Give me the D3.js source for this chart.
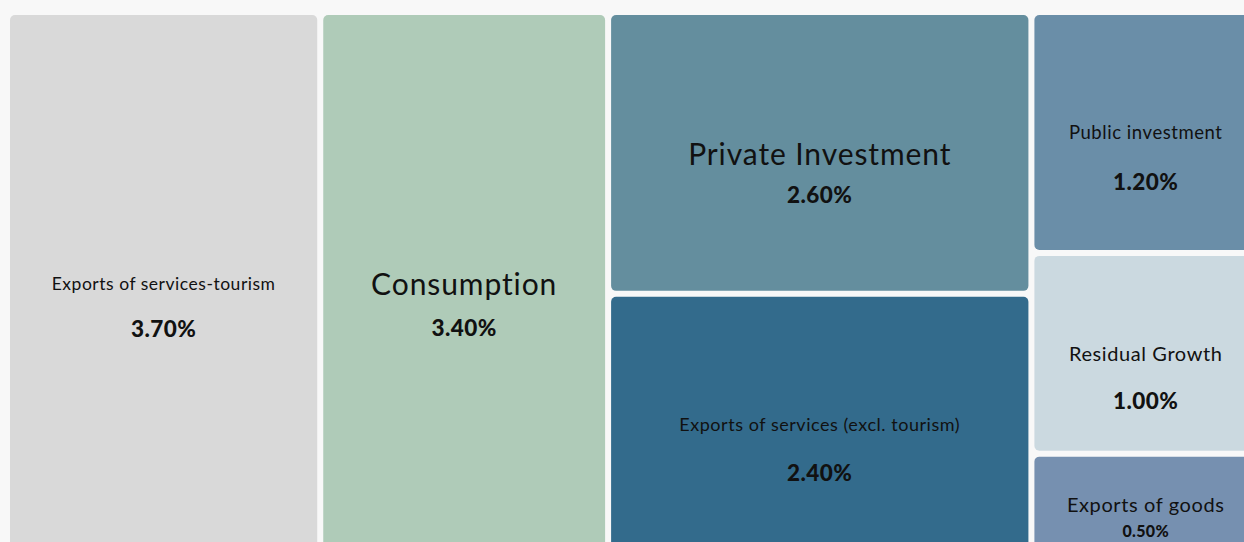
<!DOCTYPE html>
<html>
<head>
<meta charset="utf-8">
<script src="https://cdn.jsdelivr.net/npm/d3@7"></script>
<style>
  html, body { margin: 0; padding: 0; background: #f8f8f8; overflow: hidden; }
  svg { display: block; }
  text { font-family: Lato, "Open Sans", sans-serif; fill: #111; }
</style>
</head>
<body>
<div class="treemap"></div>
<script>
// growth contributions (percentage points)
const categories = [
    "Exports of services-tourism",
    "Consumption",
    "Private Investment",
    "Exports of services (excl. tourism)",
    "Public investment",
    "Residual Growth",
    "Exports of goods"
];
const values = [3.7, 3.4, 2.6, 2.4, 1.2, 1.0, 0.5];
const colors = ["#d9d9d9", "#afcbb8", "#648e9e", "#336b8c", "#6a8ea8", "#cbd9e0", "#7690b0"];

// label styles per tile
const labelSize = [17.5, 30, 30, 18, 18.5, 20, 20];
const valueSize = [22.5, 22.5, 22.5, 22.5, 22.5, 22.5, 16];
const valueGap = [45, 44, 42, 49, 49, 47, 27];

const width = 1244;
const height = 542;

const svg = d3.select('.treemap').append('svg')
    .attr('width', width)
    .attr('height', height);

const root = d3.hierarchy({
    children: categories.map((c, i) => ({ name: c, value: values[i], i: i }))
})
    .sum(d => d.value)
    .sort((a, b) => b.value - a.value);

d3.treemap()
    .tile(d3.treemapSquarify.ratio(1))
    .size([1247, 536])
    .paddingInner(6)(root);

const graph = svg.append('g')
    .attr('transform', 'translate(10,15)');

const cells = graph.selectAll('g')
    .data(root.leaves())
    .enter()
    .append('g')
    .attr('transform', d => `translate(${d.x0},${d.y0})`);

cells.append('rect')
    .attr('width', d => d.x1 - d.x0)
    .attr('height', d => d.y1 - d.y0)
    .attr('rx', 5)
    .attr('fill', d => colors[d.data.i]);

cells.append('text')
    .attr('text-anchor', 'middle')
    .attr('dominant-baseline', 'central')
    .attr('letter-spacing', '0.03em')
    .attr('x', d => (d.x1 - d.x0) / 2)
    .attr('y', d => (d.y1 - d.y0) / 2)
    .attr('font-size', d => labelSize[d.data.i])
    .text(d => d.data.name);

cells.append('text')
    .attr('text-anchor', 'middle')
    .attr('dominant-baseline', 'central')
    .attr('font-weight', 900)
    .attr('letter-spacing', '0.02em')
    .attr('x', d => (d.x1 - d.x0) / 2)
    .attr('y', d => (d.y1 - d.y0) / 2 + valueGap[d.data.i])
    .attr('font-size', d => valueSize[d.data.i])
    .text(d => d3.format('.2f')(d.data.value) + '%');
</script>
</body>
</html>
